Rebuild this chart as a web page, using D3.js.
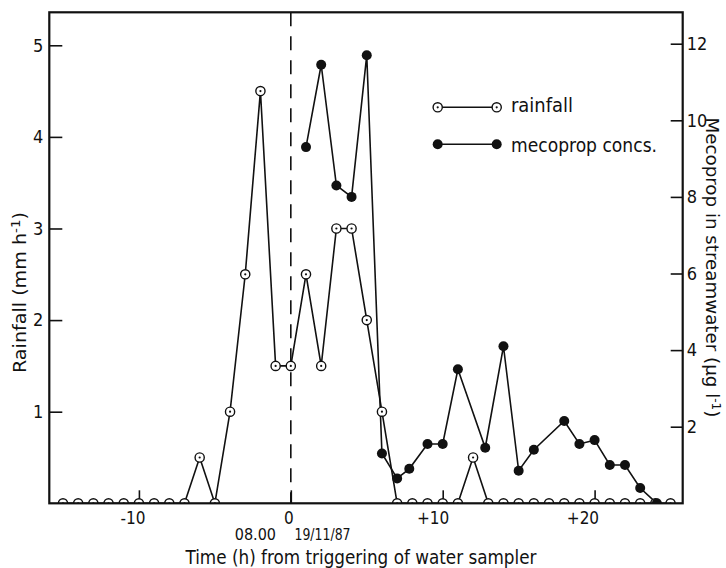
<!DOCTYPE html>
<html>
<head>
<meta charset="utf-8">
<script src="https://cdn.jsdelivr.net/npm/d3@7"></script>
<style>
  body { margin: 0; background: #fff; }
  svg { display: block; }
  text { font-family: "DejaVu Sans Condensed", "Liberation Sans Narrow", "Liberation Sans", sans-serif; font-stretch: condensed; fill: #111; }
</style>
</head>
<body>
<div id="chart"></div>
<script>
// rainfall, hourly (mm h-1)
var rainTime = [-15,-14,-13,-12,-11,-10,-9,-8,-7,-6,-5,-4,-3,-2,-1,0,1,2,3,4,5,6,7,8,9,10,11,12,13,14,15,16,17,18,19,20,21,22,23,24,25];
var rainVal  = [0,0,0,0,0,0,0,0,0,0.5,0,1,2.5,4.5,1.5,1.5,2.5,1.5,3,3,2,1,0,0,0,0,0,0.5,0,0,0,0,0,0,0,0,0,0,0,0,0];

// mecoprop concentration in streamwater (ug l-1)
var mecoTime = [1,2,3,4,5,6,7,7.8,9,10,11,12.8,14,15,16,18,19,20,21,22,23,24.1];
var mecoVal  = [9.3,11.45,8.3,8.0,11.7,1.3,0.65,0.9,1.55,1.55,3.5,1.45,4.1,0.85,1.4,2.15,1.55,1.65,1.0,1.0,0.4,0];

var xTicks = [-10,0,10,20];
var xTickLabels = ["-10","0","+10","+20"];
var xLabelShift = [6,2.5,6,4];
var leftTicks = [1,2,3,4,5];
var rightTicks = [2,4,6,8,10,12];

var W = 726, H = 568;
var margin = {top: 12.3, right: 43.3, bottom: 64.7, left: 49.3};
var iw = W - margin.left - margin.right, ih = H - margin.top - margin.bottom;

var svg = d3.select("#chart").append("svg").attr("width", W).attr("height", H);
var g = svg.append("g").attr("transform", "translate(" + margin.left + "," + margin.top + ")");

var x = d3.scaleLinear().domain([-15.9, 25.8]).range([0, iw]);
var yL = d3.scaleLinear().domain([0, 5.36]).range([ih, 0]);
var yR = d3.scaleLinear().domain([0, 12.82]).range([ih, 0]);

g.append("clipPath").attr("id", "plotclip")
  .append("rect").attr("width", iw).attr("height", ih);

// axes, ticks point inward
var ax = g.append("g").attr("transform", "translate(0," + ih + ")")
  .call(d3.axisBottom(x).tickValues(xTicks).tickSize(-13).tickPadding(9)
    .tickFormat(function(d, i){ return xTickLabels[i]; }));
ax.selectAll("text").attr("text-anchor", "end").attr("dx", function(d, i){ return xLabelShift[i]; });

var al = g.append("g").call(d3.axisLeft(yL).tickValues(leftTicks).tickSize(-13).tickPadding(6)
  .tickFormat(d3.format("d")));
var ar = g.append("g").attr("transform", "translate(" + iw + ",0)")
  .call(d3.axisRight(yR).tickValues(rightTicks).tickSize(-12).tickPadding(4)
  .tickFormat(d3.format("d")));

[ax, al, ar].forEach(function(a){
  a.select(".domain").remove();
  a.selectAll("line").attr("stroke", "#111").attr("stroke-width", 1.6);
  a.selectAll("text").style("font-size", "18px").attr("fill", "#111");
});
ax.selectAll("text").style("font-size", "17px");

// dashed line at trigger time
g.append("line")
  .attr("x1", x(0)).attr("x2", x(0)).attr("y1", 0).attr("y2", ih)
  .attr("stroke", "#111").attr("stroke-width", 1.6).attr("stroke-dasharray", "14,10");

var plot = g.append("g").attr("clip-path", "url(#plotclip)");

var rain = rainTime.map(function(t, i){ return {t: t, v: rainVal[i]}; });
var meco = mecoTime.map(function(t, i){ return {t: t, v: mecoVal[i]}; });

var rainLine = d3.line().x(function(d){ return x(d.t); }).y(function(d){ return yL(d.v); });
var mecoLine = d3.line().x(function(d){ return x(d.t); }).y(function(d){ return yR(d.v); });

plot.append("path").datum(rain).attr("d", rainLine)
  .attr("fill", "none").attr("stroke", "#111").attr("stroke-width", 1.6);
plot.append("path").datum(meco).attr("d", mecoLine)
  .attr("fill", "none").attr("stroke", "#111").attr("stroke-width", 1.6);

plot.selectAll("circle.rain").data(rain).enter().append("circle")
  .attr("class", "rain")
  .attr("cx", function(d){ return x(d.t); }).attr("cy", function(d){ return yL(d.v); })
  .attr("r", 4.6).attr("fill", "#fff").attr("stroke", "#111").attr("stroke-width", 1.4);
plot.selectAll("circle.raindot").data(rain).enter().append("circle")
  .attr("class", "raindot")
  .attr("cx", function(d){ return x(d.t); }).attr("cy", function(d){ return yL(d.v); })
  .attr("r", 1.1).attr("fill", "#111");

plot.selectAll("circle.meco").data(meco).enter().append("circle")
  .attr("class", "meco")
  .attr("cx", function(d){ return x(d.t); }).attr("cy", function(d){ return yR(d.v); })
  .attr("r", 5).attr("fill", "#111");

// frame
g.append("rect").attr("width", iw).attr("height", ih)
  .attr("fill", "none").attr("stroke", "#111").attr("stroke-width", 2.2);

// legend
var lg = svg.append("g");
lg.append("line").attr("x1", 437.7).attr("x2", 496.7).attr("y1", 107.3).attr("y2", 107.3)
  .attr("stroke", "#111").attr("stroke-width", 1.6);
[437.7, 496.7].forEach(function(cx){
  lg.append("circle").attr("cx", cx).attr("cy", 107.3).attr("r", 4.6)
    .attr("fill", "#fff").attr("stroke", "#111").attr("stroke-width", 1.4);
  lg.append("circle").attr("cx", cx).attr("cy", 107.3).attr("r", 1.1).attr("fill", "#111");
});
lg.append("text").attr("x", 511).attr("y", 112).style("font-size", "20px")
  .attr("textLength", 62).attr("lengthAdjust", "spacingAndGlyphs").text("rainfall");
lg.append("line").attr("x1", 437.7).attr("x2", 496.7).attr("y1", 144.3).attr("y2", 144.3)
  .attr("stroke", "#111").attr("stroke-width", 1.6);
[437.7, 496.7].forEach(function(cx){
  lg.append("circle").attr("cx", cx).attr("cy", 144.3).attr("r", 5).attr("fill", "#111");
});
lg.append("text").attr("x", 511).attr("y", 151.7).style("font-size", "20px")
  .attr("textLength", 146).attr("lengthAdjust", "spacingAndGlyphs").text("mecoprop concs.");

// axis titles
var lt = svg.append("text").attr("transform", "translate(26,292.5) rotate(-90)")
  .attr("text-anchor", "middle").style("font-size", "17px")
  .attr("textLength", 161).attr("lengthAdjust", "spacingAndGlyphs");
lt.append("tspan").text("Rainfall (mm h");
lt.append("tspan").attr("dy", -6).style("font-size", "12px").text("-1");
lt.append("tspan").attr("dy", 6).text(")");

var rt = svg.append("text").attr("transform", "translate(706,267.5) rotate(90)")
  .attr("text-anchor", "middle").style("font-size", "18px")
  .attr("textLength", 300).attr("lengthAdjust", "spacingAndGlyphs");
rt.append("tspan").text("Mecoprop in streamwater (\u00b5g l");
rt.append("tspan").attr("dy", -6).style("font-size", "12px").text("-1");
rt.append("tspan").attr("dy", 6).text(")");

svg.append("text").attr("x", 276).attr("y", 540).attr("text-anchor", "end")
  .style("font-size", "16px").text("08.00");
svg.append("text").attr("x", 294.5).attr("y", 540)
  .style("font-size", "16px").attr("textLength", 56).attr("lengthAdjust", "spacingAndGlyphs")
  .text("19/11/87");

svg.append("text").attr("x", 361).attr("y", 563.5).attr("text-anchor", "middle")
  .style("font-size", "19px").attr("textLength", 351).attr("lengthAdjust", "spacingAndGlyphs")
  .text("Time (h) from triggering of water sampler");
</script>
</body>
</html>
